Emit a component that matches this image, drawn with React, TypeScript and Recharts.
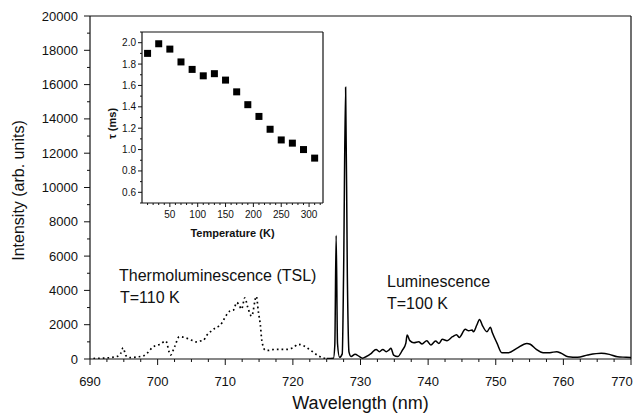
import React from 'react';
import { ComposedChart, Line, XAxis, YAxis, ReferenceLine, ScatterChart, Scatter } from 'recharts';

// thermoluminescence, dotted
const tslWavelength = [690.5, 692, 693, 694, 694.5, 694.9, 695.3, 696, 697, 698, 699.5, 700.3, 701.2, 701.9, 702.5, 703.2, 704, 704.7, 705.3, 705.7, 706.3, 706.8, 707.3, 708, 708.5, 709, 709.5, 710, 710.7, 711.2, 711.7, 712.1, 712.4, 712.9, 713.3, 713.9, 714.6, 714.9, 715.2, 715.4, 715.9, 716.4, 717, 718, 719, 720, 720.8, 721.5, 722.3, 723.6, 724.5, 725];
const tslIntensity = [30, 50, 80, 150, 300, 650, 200, 80, 120, 200, 750, 850, 1050, 230, 700, 1300, 1250, 1150, 1050, 1000, 1050, 1100, 1400, 1650, 1800, 1900, 2100, 2450, 2800, 2850, 3300, 3100, 2900, 3570, 3050, 2500, 3650, 2750, 1950, 1100, 520, 500, 550, 560, 560, 650, 860, 780, 600, 230, 60, 30];

// luminescence, solid
const lumWavelength = [725, 726, 726.2, 726.4, 726.6, 726.9, 727.3, 727.5, 727.8, 728.05, 728.3, 728.6, 729.2, 729.8, 730.3, 730.8, 731.6, 732.3, 732.8, 733.3, 733.8, 734.2, 734.5, 734.9, 735.5, 736.2, 736.7, 736.9, 737.3, 737.9, 738.6, 739.1, 739.8, 740.4, 741.1, 741.6, 742.1, 742.8, 743.6, 744.2, 744.6, 745.5, 746, 746.5, 746.7, 747.2, 747.6, 748, 748.7, 749.2, 749.5, 750.2, 750.9, 751.9, 753.1, 754.6, 755.1, 756, 757, 758, 759, 759.7, 760.7, 762.1, 763.6, 765.6, 766.8, 768, 769.3, 770];
const lumIntensity = [30, 50, 800, 7200, 900, 100, 300, 5000, 15850, 5000, 400, 150, 280, 150, 50, 130, 330, 560, 430, 560, 430, 520, 620, 230, 140, 520, 910, 1400, 1070, 950, 1010, 870, 1070, 820, 1050, 910, 1150, 1070, 1300, 1420, 1260, 1730, 1650, 1690, 1590, 1980, 2310, 1980, 1590, 1850, 1530, 910, 370, 370, 620, 910, 860, 560, 370, 370, 430, 330, 130, 100, 230, 330, 270, 130, 100, 80];

// inset: decay time vs temperature
const tempK = [10, 30, 50, 70, 90, 110, 130, 150, 170, 190, 210, 230, 250, 270, 290, 310];
const tauMs = [1.9, 1.99, 1.94, 1.82, 1.75, 1.69, 1.71, 1.65, 1.54, 1.42, 1.31, 1.19, 1.09, 1.06, 1.0, 0.92];

const xMajor = [690, 700, 710, 720, 730, 740, 750, 760, 770];
const yMajor = [0, 2000, 4000, 6000, 8000, 10000, 12000, 14000, 16000, 18000, 20000];
const insetXMajor = [50, 100, 150, 200, 250, 300];
const insetYMajor = [0.6, 0.8, 1.0, 1.2, 1.4, 1.6, 1.8, 2.0];

const range = (a: number, b: number, step: number) => {
  const out: number[] = [];
  for (let v = a; v <= b + 1e-9; v += step) out.push(Math.round(v * 100) / 100);
  return out;
};

const xTicks = range(690, 770, 2.5);
const yTicks = range(0, 20000, 1000);
const insetXTicks = range(10, 320, 10);
const insetYTicks = range(0.5, 2.1, 0.1);

const tslData = tslWavelength.map((x, i) => ({ x, y: tslIntensity[i] }));
const lumData = lumWavelength.map((x, i) => ({ x, y: lumIntensity[i] }));
const insetData = tempK.map((t, i) => ({ t, tau: tauMs[i] }));

const FONT = '"Liberation Sans", Arial, Helvetica, sans-serif';
const INK = '#111';

const isMajor = (v: number, majors: number[]) => majors.some((m) => Math.abs(m - v) < 1e-6);

const bottomTick = (majors: number[], len: number, minLen: number, dy: number, size: number, fmt: (v: number) => string, lastShift = 0) =>
  (props: any) => {
    const { x, y, payload } = props;
    const major = isMajor(payload.value, majors);
    const last = Math.abs(payload.value - majors[majors.length - 1]) < 1e-6;
    return (
      <g>
        <line x1={x} x2={x} y1={y} y2={y + (major ? len : minLen)} stroke={INK} strokeWidth={1} />
        {major && (
          <text x={last ? x - lastShift : x} y={y + dy} textAnchor="middle" dominantBaseline="central" fontSize={size} fontFamily={FONT} fill={INK}>
            {fmt(payload.value)}
          </text>
        )}
      </g>
    );
  };

const leftTick = (majors: number[], len: number, minLen: number, dx: number, size: number, fmt: (v: number) => string) =>
  (props: any) => {
    const { x, y, payload } = props;
    const major = isMajor(payload.value, majors);
    return (
      <g>
        <line x1={x} x2={x - (major ? len : minLen)} y1={y} y2={y} stroke={INK} strokeWidth={1} />
        {major && (
          <text x={x - dx} y={y} textAnchor="end" dominantBaseline="central" fontSize={size} fontFamily={FONT} fill={INK}>
            {fmt(payload.value)}
          </text>
        )}
      </g>
    );
  };

const Annotation = ({ left, top, children }: { left: number; top: number; children: React.ReactNode }) => (
  <div style={{ position: 'absolute', left, top, fontFamily: FONT, fontSize: 16, lineHeight: '16px', color: INK, whiteSpace: 'nowrap' }}>
    {children}
  </div>
);

export default function App() {
  return (
    <div style={{ position: 'absolute', left: 0, top: 0, width: 639, height: 416, background: '#fff', overflow: 'hidden' }}>
      <ComposedChart width={639} height={416} margin={{ top: 16, right: 8, bottom: 0, left: 0 }}>
        <XAxis
          dataKey="x"
          type="number"
          domain={[690, 770]}
          ticks={xTicks}
          interval={0}
          height={57}
          allowDataOverflow
          tickSize={0}
          tickMargin={0}
          tickLine={false}
          axisLine={{ stroke: INK, strokeWidth: 1.2 }}
          tick={bottomTick(xMajor, 6, 3, 22, 13, (v) => String(v), 9)}
          label={(p: any) => {
            const vb = p.viewBox;
            return (
              <text x={vb.x + vb.width / 2} y={vb.y + 44} textAnchor="middle" dominantBaseline="central" fontSize={18} fontFamily={FONT} fill={INK}>
                Wavelength (nm)
              </text>
            );
          }}
        />
        <YAxis
          type="number"
          domain={[0, 20000]}
          ticks={yTicks}
          interval={0}
          width={90}
          allowDataOverflow
          tickSize={0}
          tickMargin={0}
          tickLine={false}
          axisLine={{ stroke: INK, strokeWidth: 1.2 }}
          tick={leftTick(yMajor, 6, 3, 12, 13, (v) => String(v))}
          label={(p: any) => {
            const vb = p.viewBox;
            const cy = vb.y + vb.height / 2 + 3;
            return (
              <text x={18} y={cy} transform={`rotate(-90 18 ${cy})`} textAnchor="middle" dominantBaseline="central" fontSize={16} fontFamily={FONT} fill={INK}>
                Intensity (arb. units)
              </text>
            );
          }}
        />
        <ReferenceLine y={20000} stroke={INK} strokeWidth={1.2} />
        <ReferenceLine x={770} stroke={INK} strokeWidth={1.2} />
        <Line data={tslData} dataKey="y" type="monotone" dot={false} stroke="#000" strokeWidth={1.7} strokeDasharray="1.7 3" isAnimationActive={false} />
        <Line data={lumData} dataKey="y" type="monotone" dot={false} stroke="#000" strokeWidth={1.5} isAnimationActive={false} />
      </ComposedChart>

      <div style={{ position: 'absolute', left: 80, top: 10 }}>
        <ScatterChart width={251} height={240} margin={{ top: 22, right: 8, bottom: 0, left: 0 }}>
          <XAxis
            dataKey="t"
            type="number"
            domain={[0, 325]}
            ticks={insetXTicks}
            interval={0}
            height={47}
            allowDataOverflow
            tickSize={0}
            tickMargin={0}
            tickLine={false}
            axisLine={{ stroke: INK, strokeWidth: 1.2 }}
            tick={bottomTick(insetXMajor, 4, 2, 11, 10, (v) => String(v))}
            label={(p: any) => {
              const vb = p.viewBox;
              return (
                <text x={vb.x + vb.width / 2} y={vb.y + 30} textAnchor="middle" dominantBaseline="central" fontSize={11} fontWeight="bold" fontFamily={FONT} fill={INK}>
                  Temperature (K)
                </text>
              );
            }}
          />
          <YAxis
            dataKey="tau"
            type="number"
            domain={[0.5, 2.1]}
            ticks={insetYTicks}
            interval={0}
            width={62}
            allowDataOverflow
            tickSize={0}
            tickMargin={0}
            tickLine={false}
            axisLine={{ stroke: INK, strokeWidth: 1.2 }}
            tick={leftTick(insetYMajor, 4, 2, 6, 10, (v) => v.toFixed(1))}
            label={(p: any) => {
              const vb = p.viewBox;
              const cy = vb.y + vb.height / 2 + 6;
              return (
                <text x={32} y={cy} transform={`rotate(-90 32 ${cy})`} textAnchor="middle" dominantBaseline="central" fontSize={11} fontWeight="bold" fontFamily={FONT} fill={INK}>
                  τ (ms)
                </text>
              );
            }}
          />
          <ReferenceLine y={2.1} stroke={INK} strokeWidth={1.2} />
          <ReferenceLine x={325} stroke={INK} strokeWidth={1.2} />
          <Scatter
            data={insetData}
            fill="#000"
            isAnimationActive={false}
            shape={(p: any) => <rect x={p.cx - 3.5} y={p.cy - 3.5} width={7} height={7} fill="#000" />}
          />
        </ScatterChart>
      </div>

      <Annotation left={119} top={268}>Thermoluminescence (TSL)</Annotation>
      <Annotation left={120} top={290}>T=110 K</Annotation>
      <Annotation left={387} top={274}>Luminescence</Annotation>
      <Annotation left={387} top={296}>T=100 K</Annotation>
    </div>
  );
}
